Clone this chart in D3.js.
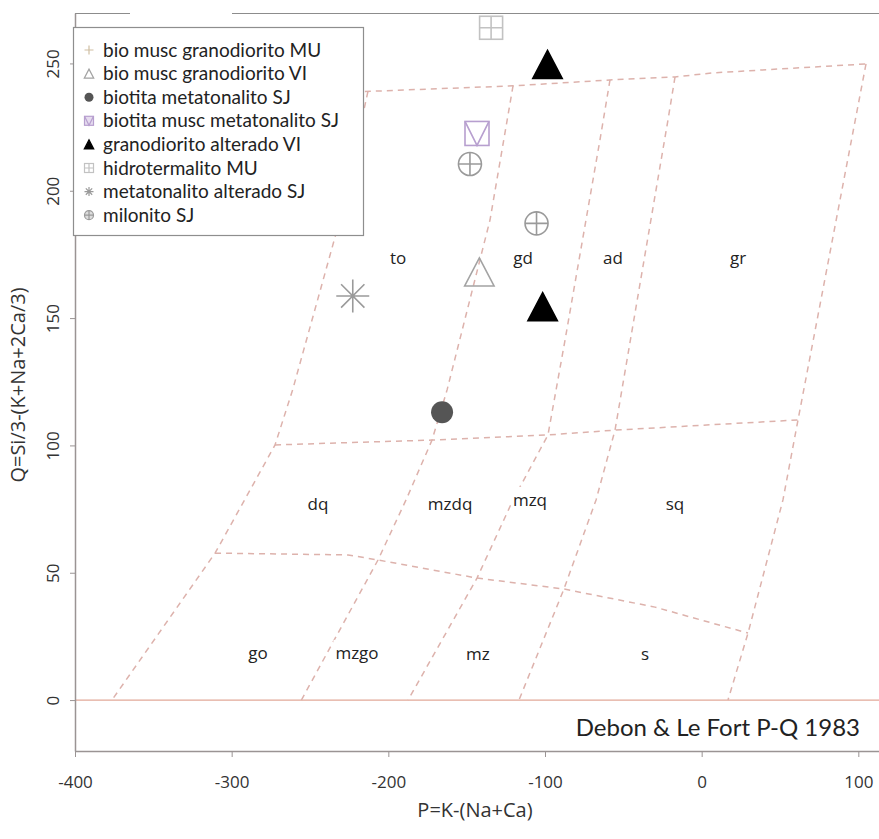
<!DOCTYPE html>
<html><head><meta charset="utf-8">
<script src="https://cdn.jsdelivr.net/npm/d3@7"></script>
<style>body{margin:0;background:#fff}</style>
</head><body><svg id="c" width="879" height="839"></svg>
<script>
// ---------- data ----------
const xTicks = [-400, -300, -200, -100, 0, 100];
const yTicks = [0, 50, 100, 150, 200, 250];
const xDomain = [-400, 113.2];
const yDomain = [-20, 269.8];

const seriesNames = [
  "bio musc granodiorito MU",
  "bio musc granodiorito VI",
  "biotita metatonalito SJ",
  "biotita musc metatonalito SJ",
  "granodiorito alterado VI",
  "hidrotermalito MU",
  "metatonalito alterado SJ",
  "milonito SJ"
];
const seriesSymbols = ["plus","triOpen","circleFilled","squareTri","triFilled","squarePlus","asterisk","circlePlus"];
const seriesColors = ["#cfbea2","#a3a3a3","#555555","#b79fcf","#000000","#c2c2c2","#9a9a9a","#9a9a9a"];

// sample values (P, Q)
const bioMuscGranoMU_P = [];            const bioMuscGranoMU_Q = [];
const bioMuscGranoVI_P = [-141.9];      const bioMuscGranoVI_Q = [168.1];
const biotitaMetatonSJ_P = [-165.7];    const biotitaMetatonSJ_Q = [113];
const biotitaMuscMetaSJ_P = [-143.4];   const biotitaMuscMetaSJ_Q = [222.5];
const granoAlteradoVI_P = [-98.4, -101.5]; const granoAlteradoVI_Q = [249.6, 154.5];
const hidrotermalitoMU_P = [-134.4];    const hidrotermalitoMU_Q = [264.0];
const metatonAlteradoSJ_P = [-222.7];   const metatonAlteradoSJ_Q = [158.7];
const milonitoSJ_P = [-147.9, -105.4];  const milonitoSJ_Q = [210.5, 187.2];

const seriesP = [bioMuscGranoMU_P, bioMuscGranoVI_P, biotitaMetatonSJ_P, biotitaMuscMetaSJ_P, granoAlteradoVI_P, hidrotermalitoMU_P, metatonAlteradoSJ_P, milonitoSJ_P];
const seriesQ = [bioMuscGranoMU_Q, bioMuscGranoVI_Q, biotitaMetatonSJ_Q, biotitaMuscMetaSJ_Q, granoAlteradoVI_Q, hidrotermalitoMU_Q, metatonAlteradoSJ_Q, milonitoSJ_Q];

// field boundaries (P, Q)
const lineA = [[-213,239],[-231,188.5],[-261,122],[-272.3,100.2],[-310.6,57.7],[-376.4,0]];
const lineB = [[-120.4,241.2],[-135.1,188.5],[-162.5,121.8],[-172.1,102.1],[-188.7,78.6],[-206.6,55],[-255.5,0]];
const lineC = [[-58.5,243.5],[-64.9,220],[-87.2,141.4],[-98.1,104.1],[-120.4,78.6],[-143.4,47.9],[-187.4,0]];
const lineD = [[-17,244.7],[-21.5,227.8],[-55.3,106],[-67.4,78.6],[-87.9,43.6],[-116.6,0]];
const lineE = [[104.9,249.8],[61.5,110],[51.9,78.6],[29.6,26.3],[16.8,0]];
const lineTop = [[-306.2,236.8],[-120.4,241.2],[-58.5,243.5],[-17,244.7],[7.3,246.3],[104.9,249.8]];
const lineMid = [[-272.3,100.2],[-172.1,102.1],[-98.1,104.1],[-55.3,106],[61.5,110]];
const lineLow = [[-310.6,57.7],[-225.7,57],[-206.6,55],[-143.4,47.9],[-87.9,43.6],[-29.8,36.5],[29.6,26.3]];
const fieldLines = [lineA, lineB, lineC, lineD, lineE, lineTop, lineMid, lineLow];

const fieldNames = ["to","gd","ad","gr","dq","mzdq","mzq","sq","go","mzgo","mz","s"];
const fieldP = [-193.8,-114.0,-56.6,23.2,-244.9,-160.6,-109.6,-17.0,-283.2,-220.0,-142.8,-36.2];
const fieldQ = [173.6,173.6,173.6,173.6,77.0,77.0,78.6,77.0,18.5,18.5,18.1,18.1];

// ---------- drawing ----------
const svg = d3.select("#c");
const x = d3.scaleLinear().domain(xDomain).range([75, 879]);
const y = d3.scaleLinear().domain(yDomain).range([751, 13]);

svg.append("rect").attr("width",879).attr("height",839).attr("fill","#fff");

// top frame line
svg.append("line").attr("x1",75).attr("x2",879).attr("y1",13.5).attr("y2",13.5)
  .attr("stroke","#8c8c8c").attr("stroke-width",1.2);

// Q = 0 line
svg.append("line").attr("x1",x(xDomain[0])).attr("x2",x(xDomain[1]))
  .attr("y1",y(0)).attr("y2",y(0)).attr("stroke","#e2a898").attr("stroke-width",1.3);

// field lines
const lineGen = d3.line().x(d=>x(d[0])).y(d=>y(d[1]));
svg.append("g").selectAll("path").data(fieldLines).join("path")
  .attr("d", lineGen).attr("fill","none")
  .attr("stroke","#ddb2ac").attr("stroke-width",1.5).attr("stroke-dasharray","6,5");

// field labels
const fl = svg.append("g").attr("font-family","'Open Sans', sans-serif").attr("font-size",17).attr("fill","#222");
fieldNames.forEach((n,i)=>{
  const t = fl.append("text").attr("x",x(fieldP[i])).attr("y",y(fieldQ[i])).attr("dy","0.35em")
    .attr("text-anchor","middle").text(n);
  const bb = t.node().getBBox();
  fl.insert("rect","text").attr("x",bb.x-2).attr("y",bb.y-1).attr("width",bb.width+4).attr("height",bb.height+2)
    .attr("fill","#fff");
});

// axes
const fmt = d => String(d);
const xAxis = svg.append("g").attr("transform","translate(0,751)")
  .call(d3.axisBottom(x).tickValues(xTicks).tickFormat(fmt).tickSize(6).tickSizeOuter(0));
xAxis.select(".domain").attr("stroke","#9a9494").attr("stroke-width",1.5);
xAxis.selectAll(".tick line").attr("stroke","#9a9494");
xAxis.selectAll("text").attr("y",37).attr("dy",0).attr("font-family","'Open Sans', sans-serif")
  .attr("font-size",17).attr("fill","#333");

const yAxis = svg.append("g").attr("transform","translate(75,0)")
  .call(d3.axisLeft(y).tickValues(yTicks).tickFormat(fmt).tickSize(5).tickSizeOuter(0));
yAxis.select(".domain").attr("stroke","#9a9494").attr("stroke-width",1.5);
yAxis.selectAll(".tick line").attr("stroke","#9a9494");
yAxis.selectAll("text").attr("x",0).attr("dy",0).attr("text-anchor","middle")
  .attr("transform","translate(-16,0) rotate(-90)")
  .attr("font-family","'Open Sans', sans-serif").attr("font-size",17).attr("fill","#333");

// axis titles
svg.append("text").attr("x",475).attr("y",817).attr("text-anchor","middle")
  .attr("font-family","'Open Sans', sans-serif").attr("font-size",20).attr("fill","#333").text("P=K-(Na+Ca)");
svg.append("text").attr("transform","translate(25,385) rotate(-90)").attr("text-anchor","middle")
  .attr("font-family","'Open Sans', sans-serif").attr("font-size",20).attr("fill","#333").text("Q=Si/3-(K+Na+2Ca/3)");

// marker drawing
function marker(g, type, cx, cy, s, color){
  const h = s/2;
  const gg = g.append("g").attr("transform",`translate(${cx},${cy})`);
  const sw = s > 14 ? 1.6 : 1.2;
  if(type==="plus"){
    gg.append("path").attr("d",`M${-h},0H${h}M0,${-h}V${h}`).attr("stroke",color).attr("stroke-width",sw).attr("fill","none");
  } else if(type==="triOpen" || type==="triFilled"){
    const p = `M0,${-h}L${h*1.05},${h}L${-h*1.05},${h}Z`;
    gg.append("path").attr("d",p).attr("fill",type==="triFilled"?color:"none").attr("stroke",color).attr("stroke-width",sw);
  } else if(type==="circleFilled"){
    gg.append("circle").attr("r",h).attr("fill",color);
  } else if(type==="squareTri"){
    gg.append("rect").attr("x",-h).attr("y",-h).attr("width",s).attr("height",s).attr("fill",s>14?"none":"#e6dcef").attr("stroke",color).attr("stroke-width",sw);
    gg.append("path").attr("d",`M${-h},${-h}L0,${h}L${h},${-h}`).attr("fill","none").attr("stroke",color).attr("stroke-width",sw);
  } else if(type==="squarePlus"){
    gg.append("rect").attr("x",-h).attr("y",-h).attr("width",s).attr("height",s).attr("fill","none").attr("stroke",color).attr("stroke-width",sw);
    gg.append("path").attr("d",`M${-h},0H${h}M0,${-h}V${h}`).attr("stroke",color).attr("stroke-width",sw);
  } else if(type==="asterisk"){
    const d = h*0.7071;
    gg.append("path").attr("d",`M${-h},0H${h}M0,${-h}V${h}M${-d},${-d}L${d},${d}M${-d},${d}L${d},${-d}`)
      .attr("stroke",color).attr("stroke-width",sw);
  } else if(type==="circlePlus"){
    gg.append("circle").attr("r",h).attr("fill",s>14?"none":"#ddd").attr("stroke",color).attr("stroke-width",sw);
    gg.append("path").attr("d",`M${-h},0H${h}M0,${-h}V${h}`).attr("stroke",color).attr("stroke-width",sw);
  }
}
const markerSize = {plus:22,triOpen:28,circleFilled:22,squareTri:24,triFilled:28,squarePlus:23,asterisk:33,circlePlus:23};

const pts = svg.append("g");
seriesNames.forEach((n,i)=>{
  seriesP[i].forEach((p,j)=>{
    marker(pts, seriesSymbols[i], x(p), y(seriesQ[i][j]), markerSize[seriesSymbols[i]], seriesColors[i]);
  });
});

// white patch on top border (as in reference)
svg.append("rect").attr("x",130).attr("y",7).attr("width",102).attr("height",20).attr("fill","#fff");

// legend
const lg = svg.append("g");
lg.append("rect").attr("x",73.5).attr("y",27.5).attr("width",290).attr("height",208)
  .attr("fill","#fff").attr("stroke","#8e8e8e").attr("stroke-width",1.2);
seriesNames.forEach((n,i)=>{
  const cy = 50 + i*23.6;
  marker(lg, seriesSymbols[i], 89, cy, 9, seriesColors[i]);
  lg.append("text").attr("x",103).attr("y",cy).attr("dy","0.35em")
    .attr("font-family","Lato, sans-serif").attr("font-size",19).attr("fill","#222").text(n);
});

// credit box
const cr = svg.append("g");
cr.append("rect").attr("x",560).attr("y",708).attr("width",316).attr("height",40).attr("fill","#fff");
cr.append("text").attr("x",860).attr("y",728).attr("dy","0.35em").attr("text-anchor","end")
  .attr("font-family","Lato, sans-serif").attr("font-size",24).attr("fill","#222").text("Debon & Le Fort P-Q 1983");
</script>
</body></html>
